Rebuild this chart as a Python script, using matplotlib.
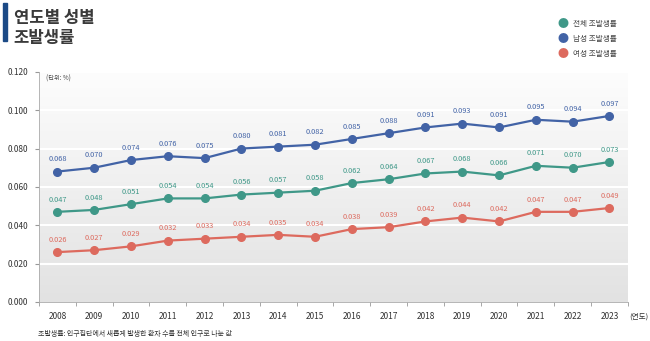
import numpy as np
import matplotlib.pyplot as plt
from matplotlib.patches import Rectangle
from matplotlib.colors import LinearSegmentedColormap

plt.rcParams['font.family'] = ['Noto Sans CJK KR', 'DejaVu Sans']

years = list(range(2008, 2024))
total = [0.047, 0.048, 0.051, 0.054, 0.054, 0.056, 0.057, 0.058,
         0.062, 0.064, 0.067, 0.068, 0.066, 0.071, 0.070, 0.073]
male = [0.068, 0.070, 0.074, 0.076, 0.075, 0.080, 0.081, 0.082,
        0.085, 0.088, 0.091, 0.093, 0.091, 0.095, 0.094, 0.097]
female = [0.026, 0.027, 0.029, 0.032, 0.033, 0.034, 0.035, 0.034,
          0.038, 0.039, 0.042, 0.044, 0.042, 0.047, 0.047, 0.049]

series = [
    ('전체 조발생률', total, '#3f9888'),
    ('남성 조발생률', male, '#4263a6'),
    ('여성 조발생률', female, '#dd6a5e'),
]

fig = plt.figure(figsize=(6.5, 3.41), dpi=100)
ax = fig.add_axes([0.06, 0.1144, 0.906, 0.675])

# gradient background
grad = np.linspace(0, 1, 256).reshape(-1, 1)
ax.imshow(grad, cmap=LinearSegmentedColormap.from_list('bg', ['#e2e2e2', '#fdfdfd']),
          aspect='auto', origin='lower', extent=[0, 1, 0, 1],
          transform=ax.transAxes, zorder=0)

ax.set_xlim(2007.5, 2023.5)
ax.set_ylim(0, 0.12)
ax.set_yticks(np.arange(0, 0.121, 0.02))
ax.set_yticklabels([f'{v:.3f}' for v in np.arange(0, 0.121, 0.02)])
ax.set_xticks(years)
ax.set_xticks(np.arange(2007.5, 2024, 1), minor=True)
ax.tick_params(axis='x', which='major', length=0, labelsize=6, pad=7, colors='#333333')
ax.tick_params(axis='x', which='minor', length=3, color='#999999')
ax.tick_params(axis='y', length=3, color='#999999', labelsize=6, colors='#333333', pad=5)
for y in np.arange(0.02, 0.121, 0.02):
    ax.axhline(y, color='white', lw=1.5, zorder=1)
for s in ['top', 'right']:
    ax.spines[s].set_visible(False)
ax.spines['left'].set_color('#aaaaaa')
ax.spines['bottom'].set_color('#aaaaaa')
ax.spines['left'].set_linewidth(0.6)
ax.spines['bottom'].set_linewidth(0.6)

for name, vals, color in series:
    ax.plot(years, vals, '-o', color=color, lw=1.6, ms=5.5, zorder=3)
    for x, v in zip(years, vals):
        ax.annotate(f'{v:.3f}', (x, v), xytext=(0, 6), textcoords='offset points',
                    ha='center', va='bottom', fontsize=5.3, color=color, zorder=4)

ax.text(0.012, 0.99, '(단위: %)', transform=ax.transAxes, fontsize=4.5,
        color='#444444', va='top', ha='left')
ax.text(1.002, -0.045, '(연도)', transform=ax.transAxes, fontsize=5.5,
        color='#333333', va='top', ha='left')

# title
fig.patches.append(Rectangle((0.005, 0.88), 0.006, 0.11, transform=fig.transFigure,
                             color='#1c4a86', figure=fig))
fig.text(0.021, 0.975, '연도별 성별\n조발생률', fontsize=12, fontweight='bold',
         color='#3a3a3a', va='top', ha='left', linespacing=1.15)

# legend
for i, (name, vals, color) in enumerate(series):
    yy = 0.93 - i * 0.044
    fig.text(0.866, yy, '●', color=color, fontsize=8, va='center', ha='center')
    fig.text(0.881, yy, name, color='#444444', fontsize=5.5, va='center', ha='left')

fig.text(0.058, 0.008, '조발생률: 인구집단에서 새롭게 발생한 환자 수를 전체 인구로 나눈 값',
         fontsize=5, color='#333333', ha='left', va='bottom')

fig.savefig('out.png', dpi=100)
